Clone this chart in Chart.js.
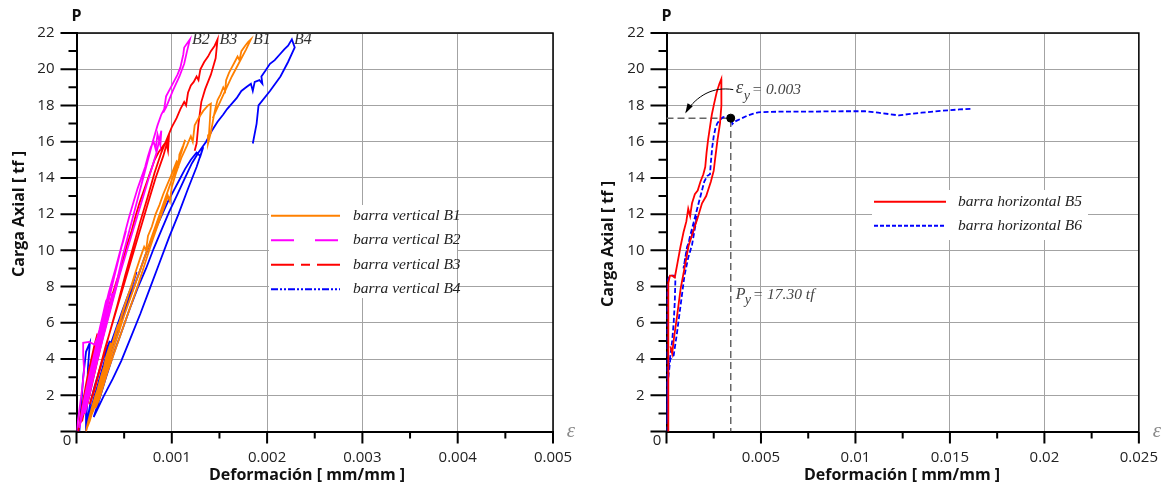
<!DOCTYPE html>
<html>
<head>
<meta charset="utf-8">
<script src="https://cdn.jsdelivr.net/npm/chart.js@4.4.1/dist/chart.umd.min.js"></script>
<style>
  html, body { margin: 0; padding: 0; background: #fff; }
  #wrap { position: relative; width: 1175px; height: 488px; }
  .box { position: absolute; top: 0; height: 488px; }
  #left { left: 0; width: 590px; }
  #right { left: 590px; width: 585px; }
</style>
</head>
<body>
<div id="wrap">
  <div class="box" id="left"><canvas id="vertical-bars"></canvas></div>
  <div class="box" id="right"><canvas id="horizontal-bars"></canvas></div>
</div>
<script>
// ---- data (strain [mm/mm], load [tf]) ----
const verticalLabels = ["barra vertical B1", "barra vertical B2", "barra vertical B3", "barra vertical B4"];
const verticalTags = ["B1", "B2", "B3", "B4"];
const horizontalLabels = ["barra horizontal B5", "barra horizontal B6"];

const leftStrainTicks = [0, 0.001, 0.002, 0.003, 0.004, 0.005];
const rightStrainTicks = [0, 0.005, 0.01, 0.015, 0.02, 0.025];
const loadTicks = [0, 2, 4, 6, 8, 10, 12, 14, 16, 18, 20, 22];

const yieldStrain = 0.0034;
const yieldLoad = 17.3;

const b1 = [
  [0.0001, 0], [0.00012, 0.5], [0.00016, 1.3], [0.0002, 2.0], [0.00022, 2.3], [0.00025, 2.9], [0.00029, 3.6], [0.00031, 4.1], [0.00034, 4.6], [0.00036, 4.9],
  [0.00033, 4.3], [0.00027, 3.2], [0.00021, 2.0], [0.00015, 1.0], [0.00011, 0.2],
  [0.00014, 0.6], [0.00019, 1.5], [0.00024, 2.5], [0.0003, 3.5], [0.00035, 4.4], [0.0004, 5.3], [0.00043, 5.8], [0.00045, 5.6], [0.00047, 6.4], [0.0005, 6.9], [0.00054, 7.5], [0.00057, 7.9], [0.0006, 8.4], [0.00062, 8.7],
  [0.00058, 8.1], [0.00052, 7.2], [0.00046, 6.2], [0.0004, 5.2], [0.00034, 4.1], [0.00027, 3.0], [0.0002, 1.8], [0.00014, 0.7],
  [0.00018, 1.2], [0.00025, 2.5], [0.00032, 3.8], [0.00038, 4.8], [0.00044, 5.8], [0.0005, 6.8], [0.00056, 7.8], [0.00062, 8.8], [0.00067, 9.6], [0.00071, 10.2], [0.00073, 10.0], [0.00075, 10.8], [0.00079, 11.3], [0.00083, 12.0], [0.00087, 12.5], [0.00091, 13.1], [0.00095, 13.6], [0.00099, 14.1], [0.00102, 14.5], [0.00105, 14.9], [0.00107, 14.7], [0.00108, 15.3], [0.00112, 15.8], [0.00114, 16.1],
  [0.0011, 15.4], [0.00104, 14.5], [0.00098, 13.6], [0.0009, 12.4], [0.00082, 11.2], [0.00074, 10.0], [0.00066, 8.8], [0.00058, 7.6], [0.0005, 6.4], [0.00042, 5.1], [0.00034, 3.8], [0.00026, 2.4], [0.0002, 1.3],
  [0.00024, 1.8], [0.00032, 3.2], [0.0004, 4.4], [0.00048, 5.6], [0.00056, 6.8], [0.00064, 8.0], [0.00072, 9.3], [0.0008, 10.6], [0.00088, 11.8], [0.00096, 13.0], [0.00098, 12.7], [0.001, 13.5], [0.00104, 14.2], [0.0011, 15.1], [0.00116, 15.8], [0.0012, 16.3], [0.00122, 16.0], [0.00124, 16.9], [0.00128, 17.3], [0.00133, 17.7], [0.00138, 18.0], [0.00141, 18.1],
  [0.0014, 17.2], [0.00139, 16.4], [0.00138, 15.9],
  [0.00141, 16.5], [0.00144, 17.4], [0.00146, 17.9], [0.00148, 18.3], [0.00151, 18.6], [0.00154, 19.0], [0.00156, 18.8], [0.00157, 19.4], [0.0016, 19.8], [0.00163, 20.1], [0.00166, 20.4], [0.00169, 20.7], [0.00171, 20.5], [0.00173, 21.0], [0.00177, 21.3], [0.0018, 21.5], [0.00183, 21.65],
  [0.00178, 21.1], [0.00171, 20.4], [0.00163, 19.6], [0.00155, 18.7], [0.00148, 17.9], [0.00143, 17.3],
];

const b2 = [
  [0, 0], [0.00002, 0.8], [0.00004, 1.6], [0.00006, 2.4], [0.00008, 3.4], [0.00007, 4.2], [0.00007, 4.9], [0.00013, 4.95], [0.00019, 4.8], [0.00022, 5.2], [0.00024, 5.6], [0.00028, 6.5], [0.00031, 7.2], [0.00034, 7.5], [0.00038, 7.6],
  [0.00033, 6.6], [0.00026, 5.2], [0.00019, 3.8], [0.00012, 2.3], [0.00006, 0.9], [0.00003, 0.2],
  [0.00005, 0.7], [0.0001, 1.9], [0.00015, 3.1], [0.0002, 4.3], [0.00025, 5.5], [0.0003, 6.6], [0.00035, 7.6], [0.00039, 8.5], [0.00043, 9.3], [0.00046, 10.0], [0.00049, 10.5], [0.00052, 11.1],
  [0.00047, 10.2], [0.00041, 9.0], [0.00034, 7.7], [0.00027, 6.2], [0.0002, 4.6], [0.00013, 3.0], [0.00007, 1.5], [0.00004, 0.6],
  [0.00008, 1.1], [0.00014, 2.5], [0.0002, 3.9], [0.00026, 5.3], [0.00032, 6.8], [0.00038, 8.2], [0.00044, 9.5], [0.0005, 10.8], [0.00055, 11.8], [0.0006, 12.7], [0.00064, 13.4], [0.00068, 14.0], [0.00072, 14.6], [0.00075, 15.2], [0.00078, 15.7], [0.00081, 16.0], [0.00083, 15.6], [0.00085, 16.4], [0.00088, 15.8], [0.00089, 16.6],
  [0.00084, 15.4], [0.00077, 14.2], [0.00069, 12.8], [0.00061, 11.4], [0.00053, 10.0], [0.00045, 8.6], [0.00037, 7.0], [0.00029, 5.4], [0.00021, 3.8], [0.00014, 2.2], [0.00009, 1.0],
  [0.00013, 1.9], [0.0002, 3.5], [0.00027, 5.0], [0.00034, 6.6], [0.00041, 8.0], [0.00048, 9.6], [0.00055, 11.0], [0.00062, 12.4], [0.00069, 13.8], [0.00075, 15.0], [0.0008, 16.0], [0.00085, 16.9], [0.00089, 17.5], [0.00092, 17.8], [0.00094, 18.5], [0.00098, 18.9], [0.00102, 19.3], [0.00106, 19.7], [0.00109, 20.1], [0.00112, 20.8], [0.00113, 21.2], [0.00119, 21.65],
  [0.00116, 21.0], [0.00113, 20.3], [0.00108, 19.6], [0.00101, 18.8], [0.00094, 17.9], [0.00091, 17.6],
];

const b3 = [
  [0.00002, 0], [0.00004, 0.8], [0.00007, 1.7], [0.0001, 2.6], [0.00013, 3.4], [0.00016, 4.1], [0.00019, 4.8], [0.00022, 5.4],
  [0.00018, 4.3], [0.00013, 3.0], [0.00008, 1.7], [0.00004, 0.5],
  [0.00006, 0.6], [0.0001, 1.6], [0.00015, 2.8], [0.0002, 4.0], [0.00025, 5.1], [0.0003, 6.1], [0.00034, 6.9], [0.00038, 7.6], [0.00042, 8.3], [0.00046, 8.9],
  [0.00041, 7.9], [0.00034, 6.6], [0.00027, 5.2], [0.0002, 3.7], [0.00013, 2.2], [0.00008, 1.0],
  [0.00012, 1.6], [0.00018, 3.0], [0.00024, 4.4], [0.0003, 5.7], [0.00036, 6.9], [0.00042, 8.1], [0.00048, 9.3], [0.00053, 10.3], [0.00058, 11.1], [0.00062, 11.9], [0.00066, 12.6], [0.0007, 13.2], [0.00074, 13.8], [0.00078, 14.4], [0.00082, 15.0], [0.00086, 15.4], [0.0009, 15.7], [0.00094, 16.0], [0.00096, 15.5], [0.00097, 16.3],
  [0.00091, 15.2], [0.00083, 14.0], [0.00075, 12.6], [0.00066, 11.0], [0.00057, 9.4], [0.00048, 7.8], [0.00039, 6.2], [0.0003, 4.6], [0.00022, 3.0], [0.00014, 1.5],
  [0.00019, 2.3], [0.00027, 3.9], [0.00035, 5.5], [0.00043, 7.0], [0.00051, 8.6], [0.00059, 10.1], [0.00067, 11.6], [0.00075, 13.0], [0.00082, 14.3], [0.00089, 15.4], [0.00096, 16.3], [0.001, 16.8], [0.00105, 17.3], [0.00109, 17.8], [0.00113, 18.2], [0.00115, 18.0], [0.00117, 18.7], [0.0012, 19.1], [0.00123, 19.3], [0.00126, 19.6], [0.00128, 19.4], [0.0013, 20.0], [0.00134, 20.4], [0.00138, 20.7], [0.00141, 21.0], [0.00145, 21.3], [0.00148, 21.65],
  [0.00146, 20.6], [0.00141, 19.7], [0.00135, 18.9], [0.00131, 18.2], [0.00128, 17.0], [0.00126, 15.9], [0.00124, 15.5],
];

const b4 = [
  [0.00003, 0], [0.00005, 1.5], [0.00007, 3.0], [0.0001, 4.4], [0.00014, 4.9], [0.00012, 3.5], [0.00011, 1.5], [0.0001, 0],
  [0.00012, 0.8], [0.00015, 1.7], [0.00019, 2.5], [0.00023, 3.2], [0.00027, 3.9], [0.00031, 4.5], [0.00035, 5.0],
  [0.0003, 4.0], [0.00024, 2.9], [0.00018, 1.7], [0.00012, 0.5],
  [0.00014, 1.0], [0.00019, 2.0], [0.00025, 3.0], [0.00031, 4.0], [0.00037, 5.0], [0.00043, 5.9], [0.00049, 6.8], [0.00054, 7.5], [0.00059, 8.2], [0.00063, 8.8],
  [0.00057, 7.8], [0.0005, 6.7], [0.00042, 5.4], [0.00034, 4.1], [0.00026, 2.9], [0.00019, 1.7], [0.00013, 0.6],
  [0.00017, 1.3], [0.00024, 2.6], [0.00031, 3.8], [0.00038, 4.8], [0.00045, 5.8], [0.00052, 6.8], [0.00059, 7.8], [0.00066, 8.8], [0.00072, 9.7], [0.00078, 10.5], [0.00084, 11.3], [0.0009, 12.0], [0.00096, 12.7], [0.00102, 13.3], [0.00108, 13.9], [0.00114, 14.5], [0.0012, 15.0], [0.00126, 15.4], [0.0013, 15.2], [0.00133, 15.7],
  [0.00126, 14.6], [0.00117, 13.4], [0.00107, 12.0], [0.00097, 10.7], [0.00087, 9.3], [0.00077, 7.9], [0.00067, 6.5], [0.00057, 5.2], [0.00047, 3.9], [0.00038, 2.9], [0.00028, 1.9], [0.00018, 0.8],
  [0.00023, 1.6], [0.00031, 3.0], [0.00039, 4.3], [0.00048, 5.6], [0.00056, 6.8], [0.00064, 7.9], [0.00073, 9.0], [0.00081, 10.1], [0.00089, 11.1], [0.00097, 12.1], [0.00105, 13.0], [0.00113, 13.9], [0.00121, 14.8], [0.00128, 15.4], [0.00136, 16.0], [0.00142, 16.6], [0.00148, 17.1], [0.00154, 17.5], [0.00158, 17.8], [0.00163, 18.1], [0.00168, 18.4], [0.00173, 18.8], [0.00178, 19.0], [0.00183, 19.2], [0.00185, 18.8], [0.00187, 19.3], [0.00192, 19.4], [0.00195, 19.2], [0.00194, 19.6], [0.00198, 19.9], [0.00203, 20.3], [0.00208, 20.5], [0.00213, 20.8], [0.00218, 21.1], [0.00222, 21.3], [0.00226, 21.65],
  [0.00229, 21.2], [0.00222, 20.4], [0.00214, 19.6], [0.00203, 18.8], [0.00191, 18.0], [0.00189, 17.0], [0.00185, 15.9],
];

const b5 = [
  [0.00012, 0], [0.00011, 1.8], [0.0001, 3.6], [0.00008, 5.4], [0.00008, 7.2], [0.00011, 8.2], [0.00018, 8.6], [0.0003, 8.6], [0.00044, 8.5],
  [0.00058, 9.3], [0.00074, 10.2], [0.0009, 11.0], [0.00105, 11.6], [0.00115, 12.3], [0.00125, 11.9], [0.00135, 12.6], [0.0015, 13.1], [0.00165, 13.3], [0.0018, 13.8], [0.00195, 14.2], [0.00205, 14.6], [0.00212, 15.4], [0.0022, 16.1], [0.0023, 16.8], [0.0024, 17.5], [0.00252, 18.1], [0.00265, 18.7], [0.0028, 19.2], [0.0029, 19.46],
  [0.00291, 18.6], [0.0029, 18.0], [0.00283, 17.0], [0.0027, 16.1], [0.00258, 15.1], [0.0025, 14.4], [0.00235, 13.8], [0.0021, 13.0], [0.00188, 12.6], [0.00165, 11.8], [0.0014, 11.0], [0.00117, 10.26], [0.00095, 9.0], [0.00075, 7.9], [0.00055, 6.3], [0.0004, 5.2], [0.0003, 4.3], [0.00021, 4.7],
];

const b6 = [
  [0, 0], [0.00001, 1.5], [0.00002, 3.0], [0, 4.5], [0.00002, 6.0], [0.00003, 7.5], [0.00006, 8.3], [0.00012, 8.5], [0.00025, 8.6], [0.0004, 8.6], [0.00047, 8.4],
  [0.00044, 7.2], [0.00038, 6.0], [0.0003, 5.0], [0.00022, 4.3], [0.0001, 3.5], [0.00004, 2.0], [0.00002, 0.5],
  [0.00005, 2.5], [0.0002, 4.0], [0.00038, 4.2], [0.00055, 5.4], [0.00075, 7.0], [0.00095, 8.6], [0.00115, 9.6], [0.00135, 10.3], [0.0015, 11.2], [0.00162, 11.9],
  [0.0014, 11.0], [0.00109, 10.2], [0.0009, 9.0], [0.001, 9.6], [0.00125, 10.8], [0.0015, 11.8], [0.0017, 12.6], [0.00185, 13.2], [0.002, 13.8], [0.00215, 14.1], [0.0023, 14.2],
  [0.00236, 15.0], [0.00242, 15.7], [0.0025, 16.3], [0.00258, 16.7], [0.00268, 17.0], [0.00282, 17.2], [0.00298, 17.35], [0.00315, 17.4], [0.00335, 17.4], [0.00345, 17.2], [0.00349, 16.98], [0.0036, 17.1], [0.00372, 17.16],
  [0.004, 17.3], [0.0043, 17.45], [0.0046, 17.55], [0.00486, 17.62], [0.0055, 17.65], [0.0065, 17.66], [0.0075, 17.66], [0.0085, 17.67], [0.0095, 17.68], [0.0105, 17.68], [0.0112, 17.6], [0.0118, 17.52], [0.0123, 17.45], [0.0128, 17.52], [0.0135, 17.6], [0.0145, 17.7], [0.0155, 17.78], [0.0162, 17.82],
];

// ---- styling helpers ----
const sansFamily = "'Open Sans', 'Noto Sans', sans-serif";
const serifFamily = "'Liberation Serif', 'DejaVu Serif', serif";
const tickFont = { family: sansFamily, size: 15 };
const gridColor = "#a3a3a3";

const toPoints = (pairs) => pairs.map(([x, y]) => ({ x, y }));

const curve = (label, pairs, color, dash) => ({
  label,
  data: toPoints(pairs),
  showLine: true,
  borderColor: color,
  backgroundColor: color,
  borderWidth: 1.8,
  borderDash: dash || [],
  pointRadius: 0,
  tension: 0,
});

const strainAxis = (tickValues, max) => ({
  type: "linear",
  min: 0,
  max,
  afterBuildTicks: (s) => {
    s.ticks = tickValues.map((v) => ({ value: v }));
  },
  afterFit: (s) => {
    s.height = 56.5;
  },
  grid: { color: gridColor, lineWidth: 1, drawTicks: false },
  border: { display: true, color: "#000", width: 2 },
  ticks: {
    color: "#222",
    font: tickFont,
    padding: 17,
    maxRotation: 0,
    callback: (v) => (v === 0 ? "" : String(v)),
  },
  title: { display: false },
});

const loadAxis = () => ({
  type: "linear",
  min: 0,
  max: 22,
  afterBuildTicks: (s) => {
    s.ticks = loadTicks.map((v) => ({ value: v }));
  },
  afterFit: (s) => {
    s.width = 76.5;
  },
  grid: { color: gridColor, lineWidth: 1, drawTicks: false },
  border: { display: true, color: "#000", width: 2 },
  ticks: {
    color: "#222",
    font: tickFont,
    padding: 22,
    callback: (v) => (v === 0 ? "" : String(v)),
  },
  title: { display: false },
});

// frame, minor ticks, axis titles, corner labels and the hand drawn legend
const decorPlugin = (legendDashes, legendBox, strainTicks, titlePos) => ({
  id: "decor",
  afterDatasetsDraw(chart) {
    const { ctx, chartArea: a, scales } = chart;
    const xs = scales.x;
    const ys = scales.y;
    ctx.save();

    // top / right frame
    ctx.strokeStyle = "#000";
    ctx.lineWidth = 1.5;
    ctx.beginPath();
    ctx.moveTo(a.left, a.top);
    ctx.lineTo(a.right, a.top);
    ctx.lineTo(a.right, a.bottom);
    ctx.stroke();

    // tick marks, major and minor
    ctx.lineWidth = 2;
    ctx.beginPath();
    loadTicks.forEach((v, i) => {
      const y = ys.getPixelForValue(v);
      ctx.moveTo(a.left - 16, y);
      ctx.lineTo(a.left, y);
      if (i < loadTicks.length - 1) {
        const ym = ys.getPixelForValue((v + loadTicks[i + 1]) / 2);
        ctx.moveTo(a.left - 8, ym);
        ctx.lineTo(a.left, ym);
      }
    });
    strainTicks.forEach((v, i) => {
      const x = xs.getPixelForValue(v);
      ctx.moveTo(x, a.bottom);
      ctx.lineTo(x, a.bottom + 12);
      if (i < strainTicks.length - 1) {
        const xm = xs.getPixelForValue((v + strainTicks[i + 1]) / 2);
        ctx.moveTo(xm, a.bottom);
        ctx.lineTo(xm, a.bottom + 7);
      }
    });
    ctx.stroke();

    // origin "0", axis letters
    ctx.fillStyle = "#222";
    ctx.font = "15px " + sansFamily;
    ctx.textAlign = "center";
    ctx.textBaseline = "middle";
    ctx.fillText("0", a.left - 9.5, a.bottom + 9);
    ctx.font = "bold 16px " + sansFamily;
    ctx.fillStyle = "#111";
    ctx.fillText("P", a.left, 16);
    ctx.font = "italic 21px " + serifFamily;
    ctx.fillStyle = "#8a8a8a";
    ctx.fillText("\u03b5", a.right + 18, a.bottom);

    // axis titles
    ctx.fillStyle = "#111";
    ctx.font = "bold 16px " + sansFamily;
    ctx.fillText("Deformación [ mm/mm ]", titlePos.xTitleX, 475);
    ctx.save();
    ctx.translate(titlePos.yTitleX, titlePos.yTitleY);
    ctx.rotate(-Math.PI / 2);
    ctx.fillText("Carga Axial [ tf ]", 0, 0);
    ctx.restore();

    // legend
    ctx.fillStyle = "#fff";
    ctx.fillRect(legendBox.x, legendBox.y, legendBox.w, legendBox.h);
    legendDashes.forEach((dash, i) => {
      const ds = chart.data.datasets[i];
      const y = legendBox.row0 + i * legendBox.gap;
      ctx.strokeStyle = ds.borderColor;
      ctx.lineWidth = 2;
      ctx.setLineDash(dash);
      ctx.beginPath();
      ctx.moveTo(legendBox.lineX0, y);
      ctx.lineTo(legendBox.lineX1, y);
      ctx.stroke();
      ctx.setLineDash([]);
      ctx.fillStyle = "#222";
      ctx.font = "italic 15.5px " + serifFamily;
      ctx.textAlign = "left";
      ctx.fillText(ds.label, legendBox.textX, y);
    });
    ctx.restore();
  },
});

const tagPlugin = {
  id: "tags",
  afterDatasetsDraw(chart) {
    const { ctx, scales } = chart;
    ctx.save();
    ctx.font = "italic 16px " + serifFamily;
    ctx.fillStyle = "#333";
    ctx.textAlign = "left";
    ctx.textBaseline = "middle";
    verticalTags.forEach((tag, i) => {
      const pts = chart.data.datasets[i].data;
      const top = pts.reduce((m, p) => (p.y > m.y ? p : m), pts[0]);
      ctx.fillText(tag, scales.x.getPixelForValue(top.x) + 2, scales.y.getPixelForValue(top.y));
    });
    ctx.restore();
  },
};

const yieldPlugin = {
  id: "yieldNote",
  afterDatasetsDraw(chart) {
    const { ctx, scales } = chart;
    const xp = scales.x.getPixelForValue(yieldStrain);
    const yp = scales.y.getPixelForValue(yieldLoad);
    ctx.save();
    ctx.fillStyle = "#444";
    ctx.textAlign = "left";
    ctx.textBaseline = "middle";
    // eps_y = 0.003
    ctx.font = "italic 19px " + serifFamily;
    ctx.fillText("\u03b5", xp + 5, yp - 30);
    ctx.font = "italic 14px " + serifFamily;
    ctx.fillText("y", xp + 13, yp - 22);
    ctx.font = "italic 15.5px " + serifFamily;
    ctx.fillText("= 0.003", xp + 21, yp - 28);
    // P_y = 17.30 tf
    const yt = scales.y.getPixelForValue(7.55);
    ctx.font = "italic 16px " + serifFamily;
    ctx.fillText("P", xp + 5, yt);
    ctx.font = "italic 14px " + serifFamily;
    ctx.fillText("y", xp + 14, yt + 6);
    ctx.font = "italic 15.5px " + serifFamily;
    ctx.fillText("= 17.30 tf", xp + 22, yt);
    // curved arrow
    const ex = xp - 44.5;
    const ey = yp - 6.5;
    ctx.strokeStyle = "#000";
    ctx.lineWidth = 1;
    ctx.beginPath();
    ctx.moveTo(xp + 2.5, yp - 28.5);
    ctx.bezierCurveTo(xp - 18, yp - 32, xp - 34, yp - 22, ex, ey);
    ctx.stroke();
    const ang = Math.atan2(16, -9);
    ctx.fillStyle = "#000";
    ctx.beginPath();
    ctx.moveTo(ex + 2 * Math.cos(ang), ey + 2 * Math.sin(ang));
    ctx.lineTo(ex - 8 * Math.cos(ang) - 3 * Math.sin(ang), ey - 8 * Math.sin(ang) + 3 * Math.cos(ang));
    ctx.lineTo(ex - 8 * Math.cos(ang) + 3 * Math.sin(ang), ey - 8 * Math.sin(ang) - 3 * Math.cos(ang));
    ctx.closePath();
    ctx.fill();
    ctx.restore();
  },
};

const baseOptions = (xAxis, rightPad) => ({
  responsive: true,
  maintainAspectRatio: false,
  animation: false,
  layout: { padding: { top: 33, right: rightPad, left: 0, bottom: 0 } },
  plugins: { legend: { display: false }, tooltip: { enabled: false }, title: { display: false } },
  scales: { x: xAxis, y: loadAxis() },
});

const verticalBars = () => {
  const ctx = document.getElementById("vertical-bars").getContext("2d");
  return new Chart(ctx, {
    type: "scatter",
    data: {
      datasets: [
        curve(verticalLabels[0], b1, "#ff8000"),
        curve(verticalLabels[1], b2, "#ff00ff"),
        curve(verticalLabels[2], b3, "#ff0000"),
        curve(verticalLabels[3], b4, "#0000ff"),
      ],
    },
    options: baseOptions(strainAxis(leftStrainTicks, 0.005), 37),
    plugins: [
      decorPlugin(
        [[], [23, 21], [23, 7, 9, 7], [7, 2, 2, 2, 2, 2]],
        { x: 269, y: 205, w: 188, h: 93, row0: 215.7, gap: 24.5, lineX0: 271, lineX1: 340, textX: 353 },
        leftStrainTicks,
        { xTitleX: 307, yTitleX: 19, yTitleY: 214 }
      ),
      tagPlugin,
    ],
  });
};

const horizontalBars = () => {
  const ctx = document.getElementById("horizontal-bars").getContext("2d");
  return new Chart(ctx, {
    type: "scatter",
    data: {
      datasets: [
        curve(horizontalLabels[0], b5, "#ff0000"),
        curve(horizontalLabels[1], b6, "#0000ff", [5, 2.5]),
        {
          label: "yield",
          data: toPoints([[0, yieldLoad], [yieldStrain, yieldLoad], [yieldStrain, 0]]),
          showLine: true,
          borderColor: "#666",
          borderWidth: 1.5,
          borderDash: [7, 4],
          pointRadius: 0,
          order: 2,
        },
        {
          label: "yield point",
          data: toPoints([[yieldStrain, yieldLoad]]),
          pointRadius: 4,
          backgroundColor: "#000",
          borderColor: "#000",
          order: -1,
        },
      ],
    },
    options: baseOptions(strainAxis(rightStrainTicks, 0.025), 34),
    plugins: [
      decorPlugin(
        [[], [4, 2]],
        { x: 282, y: 190, w: 216, h: 50, row0: 201.7, gap: 24, lineX0: 284, lineX1: 356, textX: 368 },
        rightStrainTicks,
        { xTitleX: 312, yTitleX: 18, yTitleY: 244 }
      ),
      yieldPlugin,
    ],
  });
};

verticalBars();
horizontalBars();
</script>
</body>
</html>
